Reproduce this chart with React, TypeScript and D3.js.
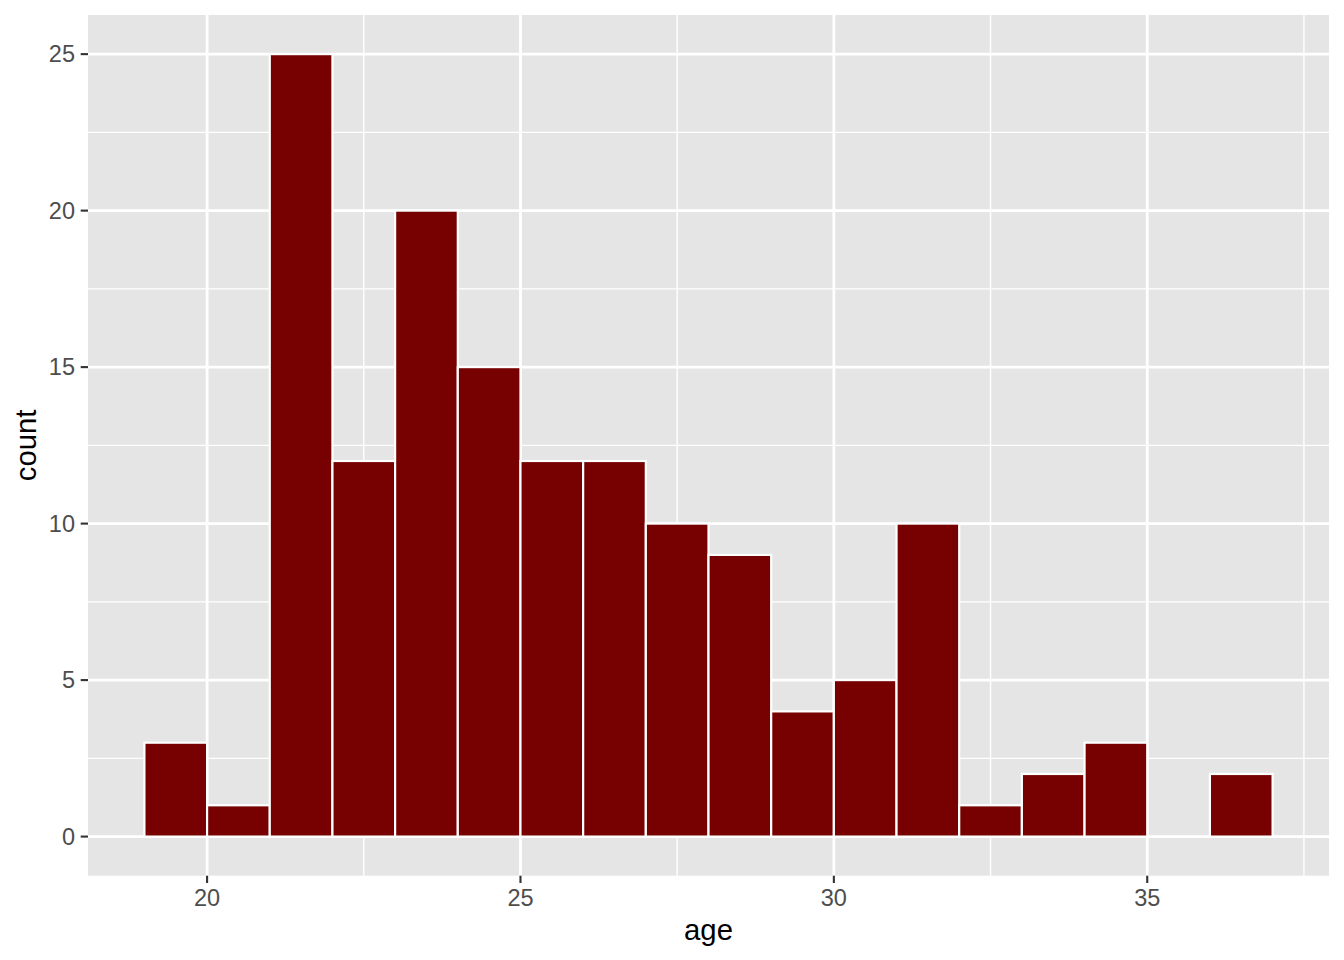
import React from "react";
import * as d3 from "d3";

const binStarts = [19, 20, 21, 22, 23, 24, 25, 26, 27, 28, 29, 30, 31, 32, 33, 34, 35, 36];
const counts = [3, 1, 25, 12, 20, 15, 12, 12, 10, 9, 4, 5, 10, 1, 2, 3, 0, 2];
const xTicks = [20, 25, 30, 35];
const xMinor = [22.5, 27.5, 32.5, 37.5];
const yTicks = [0, 5, 10, 15, 20, 25];
const yMinor = [2.5, 7.5, 12.5, 17.5, 22.5];
const binWidth = 1;

export default function App() {
  const W = 1344, H = 960;
  const left = 88, right = 1329, top = 15, bottom = 875.7;
  const x = d3.scaleLinear().domain([18.1, 37.9]).range([left, right]);
  const y = d3.scaleLinear().domain([-1.25, 26.25]).range([bottom, top]);
  const font = "'Liberation Sans', Arial, sans-serif";
  return (
    <svg width={W} height={H} style={{ position: "absolute", left: 0, top: 0 }}>
      <rect x={0} y={0} width={W} height={H} fill="#fff" />
      <rect x={left} y={top} width={right - left} height={bottom - top} fill="#e5e5e5" />
      {xMinor.map((v) => (
        <line key={"xm" + v} x1={x(v)} x2={x(v)} y1={top} y2={bottom} stroke="#fff" strokeWidth={1.4} />
      ))}
      {yMinor.map((v) => (
        <line key={"ym" + v} y1={y(v)} y2={y(v)} x1={left} x2={right} stroke="#fff" strokeWidth={1.4} />
      ))}
      {xTicks.map((v) => (
        <line key={"xM" + v} x1={x(v)} x2={x(v)} y1={top} y2={bottom} stroke="#fff" strokeWidth={2.8} />
      ))}
      {yTicks.map((v) => (
        <line key={"yM" + v} y1={y(v)} y2={y(v)} x1={left} x2={right} stroke="#fff" strokeWidth={2.8} />
      ))}
      {binStarts.map((b, i) =>
        counts[i] > 0 ? (
          <rect
            key={"bar" + b}
            x={x(b)}
            y={y(counts[i])}
            width={x(b + binWidth) - x(b)}
            height={y(0) - y(counts[i])}
            fill="#770000"
            stroke="#fff"
            strokeWidth={2.2}
          />
        ) : null
      )}
      {yTicks.map((v) => (
        <g key={"yt" + v}>
          <line x1={left - 7.3} x2={left} y1={y(v)} y2={y(v)} stroke="#333" strokeWidth={2.1} />
          <text x={left - 13} y={y(v)} dy="0.35em" textAnchor="end" fontFamily={font} fontSize={23.5} fill="#4d4d4d">
            {v}
          </text>
        </g>
      ))}
      {xTicks.map((v) => (
        <g key={"xt" + v}>
          <line x1={x(v)} x2={x(v)} y1={bottom} y2={bottom + 7.3} stroke="#333" strokeWidth={2.1} />
          <text x={x(v)} y={bottom + 30} textAnchor="middle" fontFamily={font} fontSize={23.5} fill="#4d4d4d">
            {v}
          </text>
        </g>
      ))}
      <text x={(left + right) / 2} y={940} textAnchor="middle" fontFamily={font} fontSize={29.3} fill="#000">
        age
      </text>
      <text
        transform={`translate(36,${(top + bottom) / 2}) rotate(-90)`}
        textAnchor="middle"
        fontFamily={font}
        fontSize={29.3}
        fill="#000"
      >
        count
      </text>
    </svg>
  );
}
